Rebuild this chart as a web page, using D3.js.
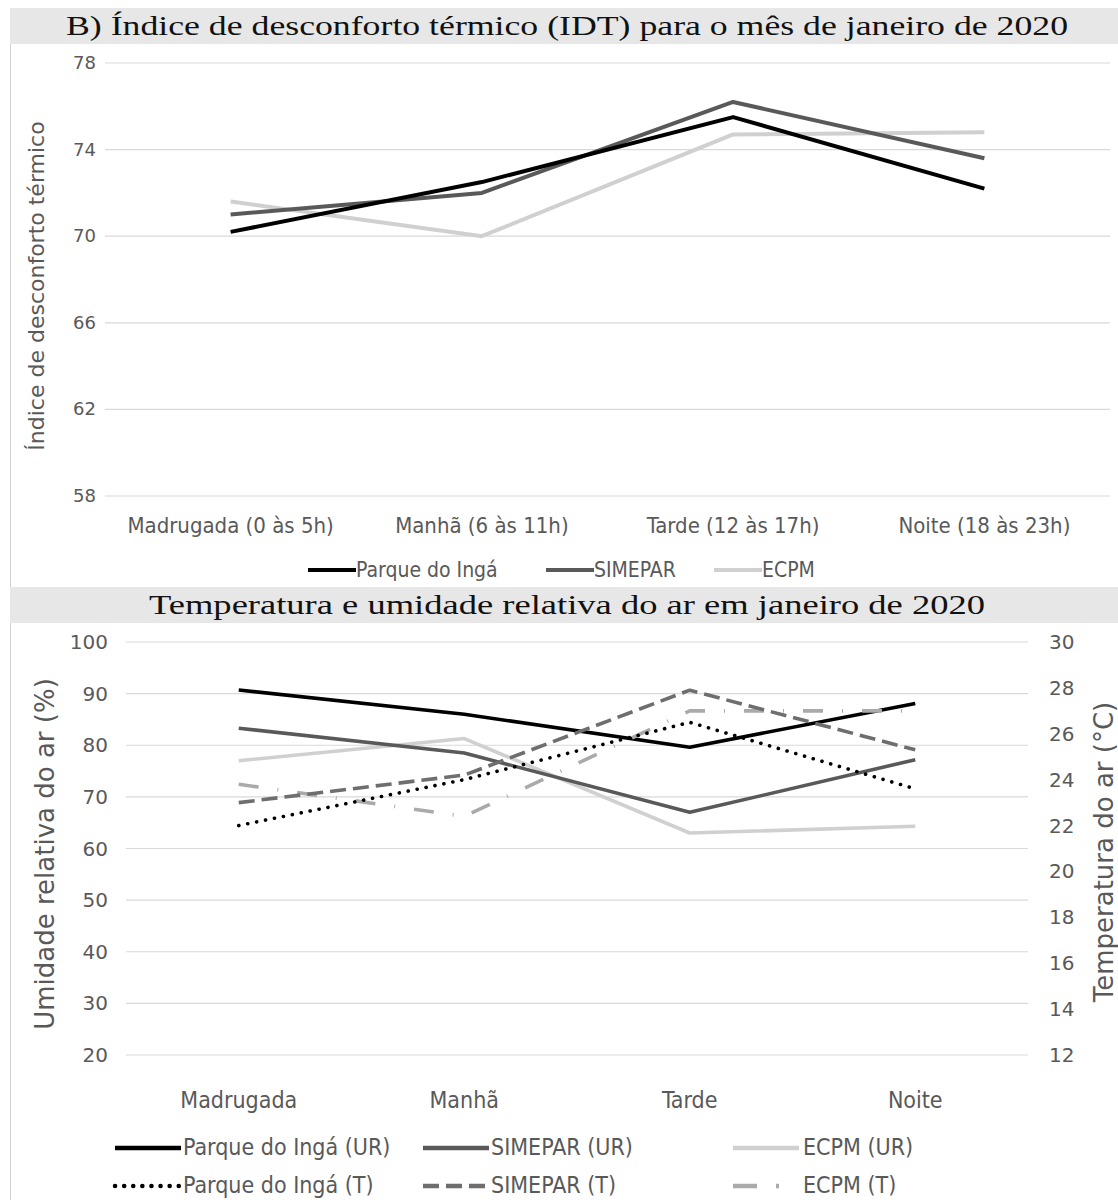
<!DOCTYPE html>
<html lang="pt">
<head>
  <meta charset="UTF-8">
  <title>IDT e temperatura/umidade - janeiro 2020</title>
  <script src="https://d3js.org/d3.v7.min.js"></script>
  <style>
    body { margin: 0; background: #fff; }
    svg text { fill: #595959; }
  </style>
</head>
<body>
  <script>
    // --- dados ---
    const periodosIDT = ["Madrugada (0 às 5h)", "Manhã (6 às 11h)", "Tarde (12 às 17h)", "Noite (18 às 23h)"];
    const idtIngaa = [70.2, 72.5, 75.5, 72.2];
    const idtSimepar = [71.0, 72.0, 76.2, 73.6];
    const idtEcpm = [71.6, 70.0, 74.7, 74.8];
    const idtTicks = [58, 62, 66, 70, 74, 78];

    const periodos = ["Madrugada", "Manhã", "Tarde", "Noite"];
    const urIngaa = [90.7, 86.0, 79.6, 88.1];
    const urSimepar = [83.3, 78.5, 67.0, 77.2];
    const urEcpm = [77.0, 81.3, 63.0, 64.3];
    const tIngaa = [22.0, 24.0, 26.5, 23.6];
    const tSimepar = [23.0, 24.2, 27.9, 25.3];
    const tEcpm = [23.8, 22.4, 27.0, 27.0];
    const urTicks = [20, 30, 40, 50, 60, 70, 80, 90, 100];
    const tTicks = [12, 14, 16, 18, 20, 22, 24, 26, 28, 30];

    const W = 1118, H = 1200;
    const sans = "'DejaVu Sans', Verdana, sans-serif";
    const narrow = "'DejaVu Sans Condensed', 'Liberation Sans Narrow', 'DejaVu Sans', sans-serif";
    const serif = "'Liberation Serif', 'DejaVu Serif', serif";

    const svg = d3.select("body").append("svg")
      .attr("width", W)
      .attr("height", H);

    // moldura esquerda
    svg.append("line")
      .attr("x1", 10.5).attr("x2", 10.5)
      .attr("y1", 8).attr("y2", H)
      .attr("stroke", "#d0d0d0");

    const band = (y0, y1, label, len) => {
      svg.append("rect")
        .attr("x", 10).attr("y", y0)
        .attr("width", W - 10).attr("height", y1 - y0)
        .attr("fill", "#e7e7e7");
      svg.append("text")
        .attr("x", 567).attr("y", (y0 + y1) / 2 + 9)
        .attr("text-anchor", "middle")
        .attr("font-family", serif)
        .attr("font-size", 28)
        .attr("textLength", len)
        .attr("lengthAdjust", "spacingAndGlyphs")
        .style("fill", "#111")
        .text(label);
    };

    // ===== Gráfico B: IDT =====
    band(8, 44, "B) Índice de desconforto térmico (IDT) para o mês de janeiro de 2020", 1002);

    const x1 = d3.scaleBand().domain(periodosIDT).range([105, 1110]);
    const y1 = d3.scaleLinear().domain([58, 78]).range([496, 63]);
    const cx1 = d => x1(d) + x1.bandwidth() / 2;

    const g1 = svg.append("g");
    g1.selectAll(".grid").data(idtTicks).join("line")
      .attr("x1", 105).attr("x2", 1110)
      .attr("y1", d => y1(d)).attr("y2", d => y1(d))
      .attr("stroke", "#d9d9d9").attr("stroke-width", 1.2);

    g1.selectAll(".ytick").data(idtTicks).join("text")
      .attr("x", 96).attr("y", d => y1(d) + 6)
      .attr("text-anchor", "end")
      .attr("font-family", sans).attr("font-size", 18)
      .text(d => d);

    g1.selectAll(".xlab").data(periodosIDT).join("text")
      .attr("x", d => cx1(d)).attr("y", 533)
      .attr("text-anchor", "middle")
      .attr("font-family", narrow).attr("font-size", 22)
      .text(d => d);

    g1.append("text")
      .attr("transform", "translate(44,286) rotate(-90)")
      .attr("text-anchor", "middle")
      .attr("font-family", sans).attr("font-size", 22)
      .text("Índice de desconforto térmico");

    const idtSeries = [
      { name: "Parque do Ingá", values: idtIngaa, color: "#000000" },
      { name: "SIMEPAR", values: idtSimepar, color: "#595959" },
      { name: "ECPM", values: idtEcpm, color: "#d0d0d0" }
    ];

    const line1 = d3.line()
      .x((d, i) => cx1(periodosIDT[i]))
      .y(d => y1(d));

    // ECPM primeiro (por baixo)
    g1.selectAll(".serie").data(idtSeries.slice().reverse()).join("path")
      .attr("d", d => line1(d.values))
      .attr("fill", "none")
      .attr("stroke", d => d.color)
      .attr("stroke-width", 4)
      .attr("stroke-linejoin", "round");

    // legenda
    const leg1x = [308, 546, 714];
    idtSeries.forEach((s, i) => {
      g1.append("line")
        .attr("x1", leg1x[i]).attr("x2", leg1x[i] + 48)
        .attr("y1", 570).attr("y2", 570)
        .attr("stroke", s.color).attr("stroke-width", 4);
      g1.append("text")
        .attr("x", leg1x[i] + 48).attr("y", 577)
        .attr("font-family", narrow).attr("font-size", 21)
        .text(s.name);
    });

    // ===== Gráfico: temperatura e umidade =====
    band(587, 623, "Temperatura e umidade relativa do ar em janeiro de 2020", 836);

    const x2 = d3.scaleBand().domain(periodos).range([126, 1028]);
    const yL = d3.scaleLinear().domain([20, 100]).range([1055, 642]);
    const yR = d3.scaleLinear().domain([12, 30]).range([1055, 642]);
    const cx2 = d => x2(d) + x2.bandwidth() / 2;

    const g2 = svg.append("g");
    g2.selectAll(".grid").data(urTicks).join("line")
      .attr("x1", 126).attr("x2", 1028)
      .attr("y1", d => yL(d)).attr("y2", d => yL(d))
      .attr("stroke", "#d9d9d9").attr("stroke-width", 1.2);

    g2.selectAll(".yl").data(urTicks).join("text")
      .attr("x", 108).attr("y", d => yL(d) + 7)
      .attr("text-anchor", "end")
      .attr("font-family", sans).attr("font-size", 20)
      .text(d => d);

    g2.selectAll(".yr").data(tTicks).join("text")
      .attr("x", 1049).attr("y", d => yR(d) + 7)
      .attr("font-family", sans).attr("font-size", 20)
      .text(d => d);

    g2.selectAll(".xlab").data(periodos).join("text")
      .attr("x", d => cx2(d)).attr("y", 1108)
      .attr("text-anchor", "middle")
      .attr("font-family", narrow).attr("font-size", 23)
      .text(d => d);

    g2.append("text")
      .attr("transform", "translate(54,854) rotate(-90)")
      .attr("text-anchor", "middle")
      .attr("font-family", sans).attr("font-size", 26)
      .text("Umidade relativa do ar (%)");

    g2.append("text")
      .attr("transform", "translate(1113,852) rotate(-90)")
      .attr("text-anchor", "middle")
      .attr("font-family", sans).attr("font-size", 26)
      .text("Temperatura do ar (°C)");

    const urSeries = [
      { name: "Parque do Ingá (UR)", values: urIngaa, color: "#000000", dash: null },
      { name: "SIMEPAR (UR)", values: urSimepar, color: "#595959", dash: null },
      { name: "ECPM (UR)", values: urEcpm, color: "#d0d0d0", dash: null }
    ];
    const tSeries = [
      { name: "Parque do Ingá (T)", values: tIngaa, color: "#000000", dash: "0.1,9" },
      { name: "SIMEPAR (T)", values: tSimepar, color: "#6e6e6e", dash: "16,7" },
      { name: "ECPM (T)", values: tEcpm, color: "#aaaaaa", dash: "20,19,1,19" }
    ];

    const lineUR = d3.line().x((d, i) => cx2(periodos[i])).y(d => yL(d));
    const lineT = d3.line().x((d, i) => cx2(periodos[i])).y(d => yR(d));

    const drawSeries = (list, gen) => {
      list.forEach(s => {
        g2.append("path")
          .attr("d", gen(s.values))
          .attr("fill", "none")
          .attr("stroke", s.color)
          .attr("stroke-width", 3.6)
          .attr("stroke-linejoin", "round")
          .attr("stroke-linecap", s.dash === "0.1,9" ? "round" : "butt")
          .attr("stroke-dasharray", s.dash);
      });
    };
    drawSeries(urSeries.slice().reverse(), lineUR);
    drawSeries(tSeries.slice().reverse(), lineT);

    // legenda (duas linhas)
    const leg2x = [115, 423, 733];
    const legRows = [urSeries, tSeries];
    legRows.forEach((row, r) => {
      const ly = 1148 + r * 38;
      row.forEach((s, i) => {
        g2.append("line")
          .attr("x1", leg2x[i]).attr("x2", leg2x[i] + 66)
          .attr("y1", ly).attr("y2", ly)
          .attr("stroke", s.color).attr("stroke-width", 4.5)
          .attr("stroke-linecap", s.dash === "0.1,9" ? "round" : "butt")
          .attr("stroke-dasharray", s.dash === "20,19,1,19" ? "24,19,3,40" : s.dash);
        g2.append("text")
          .attr("x", leg2x[i] + (i === 2 ? 70 : 68)).attr("y", ly + 7)
          .attr("font-family", narrow).attr("font-size", 23)
          .text(s.name);
      });
    });
  </script>
</body>
</html>
